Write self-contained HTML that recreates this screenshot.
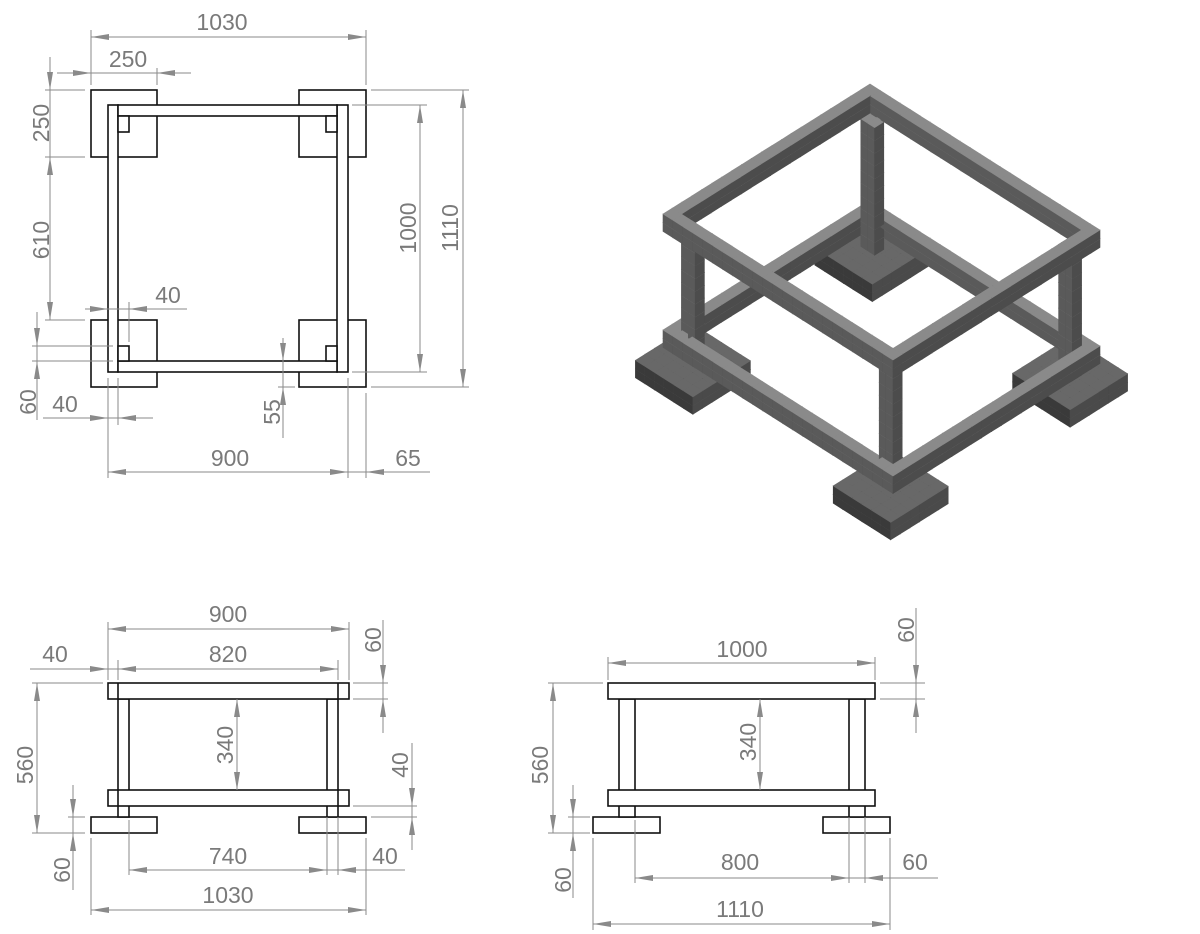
<!DOCTYPE html>
<html><head><meta charset="utf-8"><style>
html,body{margin:0;padding:0;background:#fff;}
svg{display:block;}
.t{font-family:"Liberation Sans",sans-serif;font-size:23px;fill:#7a7a7a;text-anchor:middle;}
.d{stroke:#8a8a8a;stroke-width:1;fill:none;}
.o{stroke:#111;stroke-width:1.6;fill:#fff;}
.f{stroke:#111;stroke-width:1.6;fill:none;}
</style></head><body>
<svg width="1200" height="934" viewBox="0 0 1200 934" xmlns="http://www.w3.org/2000/svg">
<defs>
<marker id="a" markerWidth="18" markerHeight="6" refX="18" refY="3" orient="auto-start-reverse" markerUnits="userSpaceOnUse"><path d="M0,0 L18,3 L0,6z" fill="#8a8a8a"/></marker>
</defs>

<!-- ===== TOP VIEW ===== -->
<rect class="f" x="91" y="90" width="66" height="67"/>
<rect class="f" x="299" y="90" width="67" height="67"/>
<rect class="f" x="91" y="320" width="66" height="67"/>
<rect class="f" x="299" y="320" width="67" height="67"/>
<rect class="o" x="108" y="105" width="10" height="267"/>
<rect class="o" x="337" y="105" width="11" height="267"/>
<rect class="o" x="118" y="105" width="219" height="11"/>
<rect class="o" x="118" y="361" width="219" height="11"/>
<rect class="o" x="118" y="116" width="11" height="16"/>
<rect class="o" x="326" y="116" width="11" height="16"/>
<rect class="o" x="118" y="346" width="11" height="15"/>
<rect class="o" x="326" y="346" width="11" height="15"/>

<g class="d">
<line x1="91" y1="30" x2="91" y2="85"/><line x1="366" y1="30" x2="366" y2="85"/>
<line x1="91" y1="37" x2="366" y2="37" marker-start="url(#a)" marker-end="url(#a)"/>
<line x1="57" y1="73" x2="91" y2="73" marker-end="url(#a)"/><line x1="91" y1="73" x2="157" y2="73"/>
<line x1="191" y1="73" x2="157" y2="73" marker-end="url(#a)"/><line x1="157" y1="68" x2="157" y2="85"/>
<line x1="50" y1="57" x2="50" y2="90" marker-end="url(#a)"/><line x1="50" y1="90" x2="50" y2="157"/>
<line x1="50" y1="157" x2="50" y2="320" marker-start="url(#a)" marker-end="url(#a)"/>
<line x1="45" y1="90" x2="85" y2="90"/><line x1="45" y1="157" x2="85" y2="157"/><line x1="45" y1="320" x2="85" y2="320"/>
<line x1="85" y1="309" x2="108" y2="309" marker-end="url(#a)"/><line x1="108" y1="309" x2="129" y2="309"/>
<line x1="187" y1="309" x2="129" y2="309" marker-end="url(#a)"/><line x1="129" y1="302" x2="129" y2="342"/>
<line x1="37" y1="312" x2="37" y2="346" marker-end="url(#a)"/><line x1="37" y1="346" x2="37" y2="361"/>
<line x1="37" y1="420" x2="37" y2="361" marker-end="url(#a)"/>
<line x1="32" y1="346" x2="113" y2="346"/><line x1="32" y1="361" x2="113" y2="361"/>
<line x1="43" y1="418" x2="108" y2="418" marker-end="url(#a)"/><line x1="108" y1="418" x2="118" y2="418"/>
<line x1="153" y1="418" x2="118" y2="418" marker-end="url(#a)"/>
<line x1="108" y1="378" x2="108" y2="478"/><line x1="118" y1="378" x2="118" y2="425"/>
<line x1="283" y1="338" x2="283" y2="361" marker-end="url(#a)"/><line x1="283" y1="361" x2="283" y2="387"/>
<line x1="283" y1="438" x2="283" y2="387" marker-end="url(#a)"/><line x1="278" y1="387" x2="295" y2="387"/>
<line x1="108" y1="472" x2="348" y2="472" marker-start="url(#a)" marker-end="url(#a)"/>
<line x1="348" y1="378" x2="348" y2="478"/><line x1="366" y1="393" x2="366" y2="478"/>
<line x1="348" y1="472" x2="366" y2="472"/><line x1="430" y1="472" x2="366" y2="472" marker-end="url(#a)"/>
<line x1="420" y1="105" x2="420" y2="372" marker-start="url(#a)" marker-end="url(#a)"/>
<line x1="352" y1="105" x2="427" y2="105"/><line x1="352" y1="372" x2="427" y2="372"/>
<line x1="463" y1="90" x2="463" y2="387" marker-start="url(#a)" marker-end="url(#a)"/>
<line x1="371" y1="90" x2="469" y2="90"/><line x1="371" y1="387" x2="469" y2="387"/>
</g>
<text class="t" x="222" y="30">1030</text>
<text class="t" x="128" y="67">250</text>
<text class="t" x="168" y="303">40</text>
<text class="t" x="65" y="412">40</text>
<text class="t" x="230" y="466">900</text>
<text class="t" x="408" y="466">65</text>
<text class="t" transform="translate(49,123) rotate(-90)">250</text>
<text class="t" transform="translate(49,240) rotate(-90)">610</text>
<text class="t" transform="translate(36,402) rotate(-90)">60</text>
<text class="t" transform="translate(280,412) rotate(-90)">55</text>
<text class="t" transform="translate(416,228) rotate(-90)">1000</text>
<text class="t" transform="translate(458,228) rotate(-90)">1110</text>

<!-- ===== FRONT VIEW ===== -->
<rect class="f" x="91" y="817" width="66" height="16"/>
<rect class="f" x="299" y="817" width="67" height="16"/>
<rect class="o" x="118" y="699" width="11" height="118"/>
<rect class="o" x="327" y="699" width="11" height="118"/>
<rect class="o" x="108" y="683" width="241" height="16"/>
<rect class="o" x="108" y="790" width="241" height="16"/>
<g stroke="#111" stroke-width="1.6">
<line x1="118" y1="683" x2="118" y2="699"/><line x1="338" y1="683" x2="338" y2="699"/>
<line x1="118" y1="790" x2="118" y2="806"/><line x1="338" y1="790" x2="338" y2="806"/>
</g>
<g class="d">
<line x1="108" y1="622" x2="108" y2="680"/><line x1="349" y1="622" x2="349" y2="680"/>
<line x1="108" y1="629" x2="349" y2="629" marker-start="url(#a)" marker-end="url(#a)"/>
<line x1="118" y1="660" x2="118" y2="680"/><line x1="338" y1="660" x2="338" y2="680"/>
<line x1="118" y1="669" x2="338" y2="669" marker-start="url(#a)" marker-end="url(#a)"/>
<line x1="30" y1="669" x2="108" y2="669" marker-end="url(#a)"/><line x1="108" y1="669" x2="118" y2="669"/>
<line x1="383" y1="620" x2="383" y2="683" marker-end="url(#a)"/><line x1="383" y1="683" x2="383" y2="699"/>
<line x1="383" y1="733" x2="383" y2="699" marker-end="url(#a)"/>
<line x1="353" y1="683" x2="388" y2="683"/><line x1="353" y1="699" x2="388" y2="699"/>
<line x1="237" y1="699" x2="237" y2="790" marker-start="url(#a)" marker-end="url(#a)"/>
<line x1="412" y1="743" x2="412" y2="806" marker-end="url(#a)"/><line x1="412" y1="806" x2="412" y2="817"/>
<line x1="412" y1="850" x2="412" y2="817" marker-end="url(#a)"/>
<line x1="353" y1="806" x2="417" y2="806"/><line x1="371" y1="817" x2="417" y2="817"/>
<line x1="37" y1="683" x2="37" y2="833" marker-start="url(#a)" marker-end="url(#a)"/>
<line x1="32" y1="683" x2="103" y2="683"/><line x1="32" y1="833" x2="85" y2="833"/>
<line x1="73" y1="785" x2="73" y2="817" marker-end="url(#a)"/><line x1="73" y1="817" x2="73" y2="833"/>
<line x1="73" y1="890" x2="73" y2="833" marker-end="url(#a)"/><line x1="68" y1="817" x2="85" y2="817"/>
<line x1="129" y1="820" x2="129" y2="875"/><line x1="327" y1="817" x2="327" y2="875"/><line x1="338" y1="817" x2="338" y2="875"/>
<line x1="129" y1="870" x2="327" y2="870" marker-start="url(#a)" marker-end="url(#a)"/>
<line x1="327" y1="870" x2="338" y2="870"/><line x1="405" y1="870" x2="338" y2="870" marker-end="url(#a)"/>
<line x1="91" y1="838" x2="91" y2="915"/><line x1="366" y1="838" x2="366" y2="915"/>
<line x1="91" y1="910" x2="366" y2="910" marker-start="url(#a)" marker-end="url(#a)"/>
</g>
<text class="t" x="228" y="622">900</text>
<text class="t" x="228" y="662">820</text>
<text class="t" x="55" y="662">40</text>
<text class="t" x="228" y="864">740</text>
<text class="t" x="385" y="864">40</text>
<text class="t" x="228" y="903">1030</text>
<text class="t" transform="translate(381,640) rotate(-90)">60</text>
<text class="t" transform="translate(233,745) rotate(-90)">340</text>
<text class="t" transform="translate(408,765) rotate(-90)">40</text>
<text class="t" transform="translate(33,765) rotate(-90)">560</text>
<text class="t" transform="translate(70,870) rotate(-90)">60</text>

<!-- ===== SIDE VIEW ===== -->
<rect class="f" x="593" y="817" width="67" height="16"/>
<rect class="f" x="823" y="817" width="67" height="16"/>
<rect class="o" x="619" y="699" width="16" height="118"/>
<rect class="o" x="849" y="699" width="16" height="118"/>
<rect class="o" x="608" y="683" width="267" height="16"/>
<rect class="o" x="608" y="790" width="267" height="16"/>
<g class="d">
<line x1="608" y1="657" x2="608" y2="680"/><line x1="875" y1="657" x2="875" y2="680"/>
<line x1="608" y1="663" x2="875" y2="663" marker-start="url(#a)" marker-end="url(#a)"/>
<line x1="916" y1="608" x2="916" y2="683" marker-end="url(#a)"/><line x1="916" y1="683" x2="916" y2="699"/>
<line x1="916" y1="733" x2="916" y2="699" marker-end="url(#a)"/>
<line x1="880" y1="683" x2="925" y2="683"/><line x1="880" y1="699" x2="925" y2="699"/>
<line x1="760" y1="699" x2="760" y2="790" marker-start="url(#a)" marker-end="url(#a)"/>
<line x1="553" y1="683" x2="553" y2="833" marker-start="url(#a)" marker-end="url(#a)"/>
<line x1="548" y1="683" x2="603" y2="683"/><line x1="548" y1="833" x2="590" y2="833"/>
<line x1="573" y1="785" x2="573" y2="817" marker-end="url(#a)"/><line x1="573" y1="817" x2="573" y2="833"/>
<line x1="573" y1="898" x2="573" y2="833" marker-end="url(#a)"/><line x1="568" y1="817" x2="590" y2="817"/>
<line x1="635" y1="820" x2="635" y2="883"/><line x1="849" y1="817" x2="849" y2="883"/><line x1="865" y1="817" x2="865" y2="883"/>
<line x1="635" y1="878" x2="849" y2="878" marker-start="url(#a)" marker-end="url(#a)"/>
<line x1="849" y1="878" x2="865" y2="878"/><line x1="938" y1="878" x2="865" y2="878" marker-end="url(#a)"/>
<line x1="593" y1="838" x2="593" y2="930"/><line x1="890" y1="838" x2="890" y2="930"/>
<line x1="593" y1="924" x2="890" y2="924" marker-start="url(#a)" marker-end="url(#a)"/>
</g>
<text class="t" x="742" y="657">1000</text>
<text class="t" x="740" y="870">800</text>
<text class="t" x="915" y="870">60</text>
<text class="t" x="740" y="917">1110</text>
<text class="t" transform="translate(914,630) rotate(-90)">60</text>
<text class="t" transform="translate(756,742) rotate(-90)">340</text>
<text class="t" transform="translate(548,765) rotate(-90)">560</text>
<text class="t" transform="translate(571,880) rotate(-90)">60</text>

<!-- ===== ISOMETRIC ===== -->
<g id="iso"></g>
</svg>
<script>
(function(){
var S=function(a,b,z){return [663+0.23*a+0.23*b, 214-0.1444*a+0.146*b+0.29*(560-z)];};
var boxes=[];
function add(a0,a1,b0,b1,z0,z1,t){boxes.push([a0,a1,b0,b1,z0,z1,t]);}
// footings
add(-65,185,-55,195,0,60,1);add(715,965,-55,195,0,60,1);
add(-65,185,805,1055,0,60,1);add(715,965,805,1055,0,60,1);
// posts
[[40,80,40,100],[820,860,40,100],[40,80,900,960],[820,860,900,960]].forEach(function(p){add(p[0],p[1],p[2],p[3],60,500,0);});
// beams
[[100,160],[500,560]].forEach(function(z){
 add(0,40,0,1000,z[0],z[1],0);add(860,900,0,1000,z[0],z[1],0);
 add(40,860,0,40,z[0],z[1],0);add(40,860,960,1000,z[0],z[1],0);
});
var chunks=[];
function split(lo,hi,m){var n=Math.max(1,Math.ceil((hi-lo)/m)),r=[];for(var i=0;i<n;i++)r.push([lo+(hi-lo)*i/n,lo+(hi-lo)*(i+1)/n]);return r;}
boxes.forEach(function(B){
 split(B[0],B[1],45).forEach(function(A){
  split(B[2],B[3],45).forEach(function(Bb){
   split(B[4],B[5],45).forEach(function(Z){
    chunks.push([A[0],A[1],Bb[0],Bb[1],Z[0],Z[1],B[6]]);
   });});});
});
chunks.sort(function(p,q){
 var kp=-(p[0]+p[1])/2+(p[2]+p[3])/2+(p[4]+p[5])/2;
 var kq=-(q[0]+q[1])/2+(q[2]+q[3])/2+(q[4]+q[5])/2;
 return kp-kq;});
var cols=[["#5a5a5a","#4c4c4c","#8a8a8a"],["#3a3a3a","#4a4a4a","#686868"]];
var out=[];
function poly(pts,c){out.push('<polygon points="'+pts.map(function(p){return p[0].toFixed(1)+','+p[1].toFixed(1);}).join(' ')+'" fill="'+c+'" stroke="'+c+'" stroke-width="0.6"/>');}
chunks.forEach(function(c){
 var a0=c[0],a1=c[1],b0=c[2],b1=c[3],z0=c[4],z1=c[5],C=cols[c[6]];
 poly([S(a0,b0,z0),S(a0,b1,z0),S(a0,b1,z1),S(a0,b0,z1)],C[0]);
 poly([S(a0,b1,z0),S(a1,b1,z0),S(a1,b1,z1),S(a0,b1,z1)],C[1]);
 poly([S(a0,b0,z1),S(a1,b0,z1),S(a1,b1,z1),S(a0,b1,z1)],C[2]);
});
document.getElementById('iso').innerHTML=out.join('');
})();
</script>
</body></html>
